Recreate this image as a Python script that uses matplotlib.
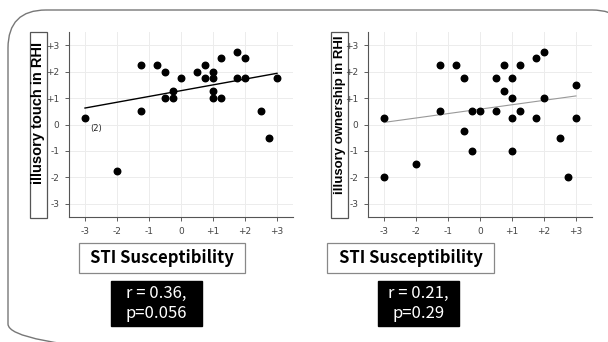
import numpy as np
import matplotlib.pyplot as plt
from matplotlib.patches import Rectangle, FancyBboxPatch

# illusory touch (left panel)
touch_x = [-3, -2, -1.25, -1.25, -0.75, -0.5, -0.5, -0.25, -0.25, 0, 0.5, 0.75, 0.75,
           1, 1, 1, 1, 1.25, 1.25, 1.75, 1.75, 2, 2, 2.5, 2.75, 3]
touch_y = [0.25, -1.75, 2.25, 0.5, 2.25, 2.0, 1.0, 1.25, 1.0, 1.75, 2.0, 2.25, 1.75,
           2.0, 1.75, 1.25, 1.0, 2.5, 1.0, 2.75, 1.75, 2.5, 1.75, 0.5, -0.5, 1.75]
touch_fit = [0.219, 1.28]   # slope, intercept

# illusory ownership (right panel)
own_x = [-3, -3, -2, -1.25, -1.25, -0.75, -0.5, -0.5, -0.25, -0.25, 0, 0.5, 0.5, 0.75, 0.75,
         1, 1, 1, 1, 1.25, 1.25, 1.75, 1.75, 2, 2, 2.5, 2.75, 3, 3]
own_y = [0.25, -2, -1.5, 2.25, 0.5, 2.25, 1.75, -0.25, 0.5, -1, 0.5, 1.75, 0.5, 2.25, 1.25,
         1.75, 1.0, 0.25, -1, 2.25, 0.5, 2.5, 0.25, 2.75, 1.0, -0.5, -2, 1.5, 0.25]
own_fit = [0.167, 0.58]

ticks = [-3, -2, -1, 0, 1, 2, 3]
tick_labels = ['-3', '-2', '-1', '0', '+1', '+2', '+3']

W, H = 608, 342
fig = plt.figure(figsize=(W / 100, H / 100), dpi=100)

# background layer in pixel coordinates
bg = fig.add_axes([0, 0, 1, 1], zorder=0)
bg.set_xlim(0, W)
bg.set_ylim(H, 0)
bg.axis('off')
bg.add_patch(FancyBboxPatch((8, 10), 622, 352, boxstyle='round,pad=0,rounding_size=38',
                            fc='none', ec='#777777', lw=1.0))

narrow = ['Liberation Sans Narrow', 'Noto Sans CJK JP', 'DejaVu Sans']


def panel(left, xs, ys, fit, line_col, line_w, ylab, ylab_size, ylab_y, box_x, xbox, rbox, rtext):
    ax = fig.add_axes([left / W, 1 - 217 / H, 224 / W, 185 / H], zorder=1)
    ax.set_xlim(-3.5, 3.5)
    ax.set_ylim(-3.5, 3.5)
    ax.set_xticks(ticks)
    ax.set_xticklabels(tick_labels, family='DejaVu Sans')
    ax.set_yticks(ticks)
    ax.set_yticklabels(tick_labels, family='DejaVu Sans')
    ax.grid(True, color='#ececec', lw=0.7)
    ax.set_axisbelow(True)
    for s in ['top', 'right']:
        ax.spines[s].set_visible(False)
    for s in ['left', 'bottom']:
        ax.spines[s].set_color('#555555')
        ax.spines[s].set_linewidth(0.8)
    ax.tick_params(labelsize=6.5, colors='#444444', length=3, width=0.6, pad=4)
    ax.patch.set_alpha(0)
    lx = np.array([-3, 3])
    ax.plot(lx, fit[0] * lx + fit[1], color=line_col, lw=line_w, zorder=2)
    ax.scatter(xs, ys, s=22, color='black', zorder=3)

    # y label box
    bg.add_patch(Rectangle((box_x, 32), 17, 186, fc='white', ec='#555555', lw=0.9))
    bg.text(box_x + 8.5, ylab_y, ylab, rotation=90, ha='center', va='center',
            fontsize=ylab_size, fontweight='bold', family='Liberation Sans')
    # x label box
    bg.add_patch(Rectangle((xbox[0], 243), xbox[1] - xbox[0], 30, fc='white', ec='#888888', lw=0.9))
    bg.text((xbox[0] + xbox[1]) / 2, 258, 'STI Susceptibility', ha='center', va='center',
            fontsize=12, fontweight='bold', family=narrow)
    # stats box
    bg.add_patch(Rectangle((rbox[0], 281), rbox[1] - rbox[0], 45, fc='black', ec='black'))
    bg.text((rbox[0] + rbox[1]) / 2, 303.5, rtext, ha='center', va='center', color='white',
            fontsize=12, family=narrow, linespacing=1.2)
    return ax


ax1 = panel(69, touch_x, touch_y, touch_fit, 'black', 1.0, 'illusory touch in RHI', 10.5, 113,
            30, (79, 245), (111, 202), 'r = 0.36,\np=0.056')
ax1.text(-2.85, -0.14, '(2)', fontsize=6, va='center', ha='left', color='#222222',
         family='DejaVu Sans')

ax2 = panel(368, own_x, own_y, own_fit, '#999999', 0.8, 'illusory ownership in RHI', 9.5, 115,
            331, (327, 494), (378, 459), 'r = 0.21,\np=0.29')

fig.savefig('out.png', dpi=100)
